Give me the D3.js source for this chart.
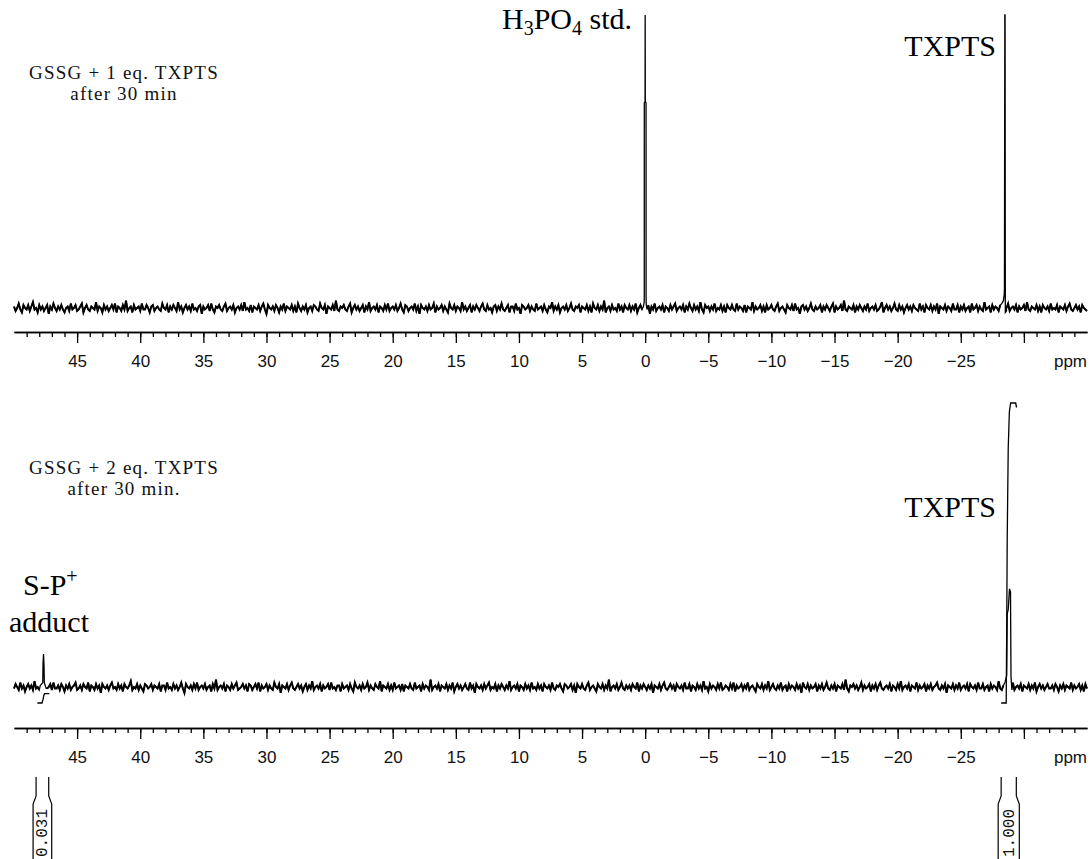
<!DOCTYPE html>
<html>
<head>
<meta charset="utf-8">
<script src="https://cdn.jsdelivr.net/npm/d3@7"></script>
<style>
  html, body { margin: 0; padding: 0; background: #fff; }
  svg { display: block; }
</style>
</head>
<body>
<svg id="chart" width="1092" height="859"></svg>
<script>
// ---- 31P spectra: baseline sampled every 0.125 ppm from 50 ppm upfield ----
const gridStart = 50;
const gridStep = 0.125;

const noiseTop = [
  1,-2,0,3,-1,-3,2,0,-1,2,-2,1,4,-1,0,-3,2,-1,1,-2,0,2,-4,1,-1,3,0,-2,1,-1,
  2,-1,-3,0,1,-2,3,-1,0,2,-2,-1,1,3,-3,0,2,-1,-2,1,0,-1,4,-2,1,0,-3,2,-1,1,
  -2,0,2,-1,3,-3,1,0,-2,2,-1,5,-2,0,1,-3,2,-1,0,1,-2,3,-1,-1,2,0,-3,1,2,-2,
  0,1,-1,-2,3,0,-1,2,-3,1,-1,2,0,-2,4,-1,1,-3,0,2,-1,1,-2,3,-1,0,-2,1,2,-4,
  1,-1,0,2,-2,3,-1,-3,1,0,2,-1,-2,1,3,-2,0,1,-1,2,-3,0,1,-1,2,-2,4,-1,0,-2,
  2,-3,1,0,-1,2,-2,1,3,-1,-4,2,0,-1,1,-2,2,0,-3,1,-1,3,-2,1,0,-1,2,-2,1,-3,
  3,0,-2,1,-1,2,-3,0,1,-2,2,1,-1,-2,3,0,-1,2,-4,1,0,-1,2,-2,5,-1,-2,1,0,2,
  -1,-2,1,3,-3,0,2,-1,1,-2,0,2,-3,1,-1,4,-2,0,1,-1,2,-3,1,0,-2,2,-1,3,-2,0,
  1,-1,2,-2,0,3,-1,-3,2,1,-2,0,1,-1,3,-2,1,-4,2,0,-1,1,-2,2,-1,0,3,-3,1,-1,
  0,2,-2,1,-1,-3,3,0,-1,2,-2,1,0,-2,4,-1,1,-2,0,2,-3,1,-1,2,0,-2,1,3,-1,-2,
  2,-1,0,-3,1,2,-2,1,-1,3,-1,-2,0,2,-3,1,1,-2,3,-1,0,-4,2,1,-1,0,2,-2,1,-1,
  -2,3,-1,0,1,-2,2,-1,-3,1,0,4,-2,1,-1,2,-3,0,1,-1,2,-2,0,3,-1,-2,1,0,2,-3,
  1,0,-1,2,-2,1,-3,3,0,-1,2,-2,1,-1,5,-3,0,1,-2,2,-1,0,-2,3,-1,1,-3,2,0,-1,
  2,-2,1,-1,3,-3,0,2,-1,1,-2,0,2,-4,1,-1,3,-2,0,1,-1,2,-3,1,0,-2,2,-1,1,3,
  -2,0,1,-1,2,-3,1,-1,3,0,-2,2,-1,1,-2,4,-1,-3,2,0,1,-2,1,-1,3,-2,0,-1,2,-2,
  1,-3,2,0,-1,2,-1,-2,3,-1,1,0,-2,2,-3,1,0,-1,4,-2,1,-1,0,2,-2,1,-3,2,-1,0,
  2,-1,-2,1,3,-2,0,1,-1,-3,2,0,-1,2,-2,3,-1,0,-4,1,2,-1,1,-2,0,3,-1,-2,1,-1,
  0,2,-3,1,-1,2,0,-2,1,3,-3,1,-1,0,2,-2,5,-1,-2,1,0,-1,2,-3,1,-1,2,0,-2,1,
  -1,3,-2,0,1,-1,2,-2,-1,1,4,-3,0,2,-1,1,-2,0,3,-1,-2,2,-1,1,-3,0,2,-1,1,-2,
  2,0,-1,-2,3,-1,1,-3,2,0,-1,2,-2,1,-1,3,-4,1,0,-1,2,-2,1,0,-2,3,-1,-1,2,-3,
  1,-1,2,-2,0,1,-3,3,-1,0,2,-2,1,-1,-2,4,-1,0,1,-3,2,-1,1,0,-2,2,-1,3,-2,0,
  3,-2,0,1,-1,2,-3,1,-1,0,2,-2,4,-1,-2,1,0,-1,2,-2,1,-3,2,0,-1,1,-2,3,-1,0,
  -1,2,-3,1,0,-1,2,-2,1,3,-1,-2,0,2,-1,1,-3,2,0,-1,-2
];

const noiseBottom = [
  -1,2,0,-2,3,-1,1,-3,0,2,-1,1,-2,4,-1,0,-2,1,2,-3,1,-1,0,2,-2,3,-1,-1,1,-2,
  2,0,-3,1,-1,2,-2,0,1,3,-2,-1,1,-2,2,0,-1,3,-3,1,0,-2,2,-1,1,-4,2,0,-1,1,
  -2,1,3,-1,0,-2,2,-1,1,-3,2,0,-1,1,4,-2,0,-1,2,-2,1,-1,-3,2,1,-1,0,2,-2,1,
  0,-1,2,-3,1,1,-2,3,-1,0,-2,2,-1,1,-2,0,3,-1,-4,2,0,-1,1,-2,2,-1,3,-2,0,1,
  -1,2,-2,0,1,-3,2,-1,5,-2,0,1,-1,2,-3,1,0,-2,2,-1,1,3,-2,-1,0,2,-1,1,-3,2,
  1,-2,0,2,-1,3,-3,1,-1,0,2,-2,1,-1,-2,3,0,-1,2,-4,1,0,-1,2,-2,1,3,-1,-2,0,
  2,-1,1,-3,0,2,-2,1,-1,4,-2,0,1,-1,2,-3,1,-1,0,2,-2,3,-1,0,-2,1,1,-3,2,-1,
  0,1,-2,2,-1,-3,3,0,-1,1,-2,2,-1,0,3,-2,1,-1,-2,2,0,-1,4,-3,1,0,-1,2,-2,1,
  -2,3,-1,0,1,-2,2,-3,1,0,-1,2,-1,-2,3,-1,0,1,-3,2,-1,1,0,-2,5,-2,0,1,-1,2,
  -3,1,0,-1,2,-2,1,-1,3,-3,0,2,-1,1,-2,0,2,-1,-2,3,-1,1,-4,2,0,-1,1,-2,2,-1,
  1,3,-2,0,-1,2,-3,1,-1,2,0,-2,1,-1,4,-2,0,1,-1,2,-3,1,0,-2,2,-1,1,-2,3,-1,
  0,-2,2,-1,1,-3,2,0,-1,1,-2,3,-1,-2,1,0,2,-1,-3,2,1,-1,0,2,-2,1,-4,2,0,-1,
  2,-1,-2,1,3,-2,0,1,-1,-3,2,0,-1,2,-2,1,-1,5,-3,0,1,-1,2,-2,0,3,-1,-2,1,-1,
  1,-2,2,0,-1,3,-3,1,-1,2,0,-2,1,-1,2,-4,1,0,-1,2,-2,1,3,-1,-2,0,2,-1,1,-3,
  2,0,-1,1,-2,3,-1,-1,2,-3,1,0,-2,2,-1,1,-2,4,-1,0,-3,2,-1,1,0,-2,2,-1,3,-2,
  -1,1,0,-2,2,-1,3,-3,1,-1,0,2,-2,1,-1,3,-2,0,1,-1,-3,2,0,-1,2,-2,1,-1,4,-2,
  0,2,-1,-2,1,-1,3,-2,0,1,-3,2,-1,1,0,-2,2,-1,1,-4,3,0,-1,2,-2,1,-1,0,2,-3,
  1,-1,2,-2,0,3,-1,-2,1,-1,2,-3,1,0,-1,2,-2,5,-1,-3,1,0,2,-1,1,-2,0,3,-2,1,
  -1,0,2,-3,1,-1,2,-2,1,3,-1,-2,0,1,-1,2,-3,1,0,-2,2,-1,4,-2,0,1,-1,2,-3,1,
  0,-1,3,-2,1,-1,0,2,-3,1,-1,2,-2,0,1,3,-1,-2,1,-1,2,-4,1,0,-1,2,-2,1,-1,3,
  -2,0,1,-1,2,-3,2,0,-1,1,-2,3,-1,-1,2,-2,0,1,-3,2,-1,1,0,-2,4,-1,-2,1,0,2,
  -1,-2,1,3,-2,0,1,-1,2,-3,1,0,-1,2,-2,1,-1,3,-3,0,2,-1,1,-2,0,2,-1,-1,1,-2,
  2,0,-3,1,-1,2,-2,1,0,-1,3,-2,1,-1,0,2,-2,1,-3,2,-1
];

// Peak profiles: [ppm, intensity]
const peakH3PO4 = [[0.14,1],[0.08,4],[0.072,8],[0.07,140],[0.01,141],[0,200],[-0.01,141],[-0.07,140],[-0.072,8],[-0.08,3],[-0.14,-1]];
const peakTxptsTop = [[-28.25,3],[-28.38,5],[-28.44,9],[-28.46,13],[-28.49,200],[-28.51,200],[-28.53,-3],[-28.62,-2]];
const peakTxptsBottom = [[-28.5,3],[-28.64,8],[-28.68,50],[-28.76,53],[-28.86,67],[-28.94,65],[-28.98,7],[-29.05,-2]];
const peakAdduct = [[47.92,1],[47.72,3],[47.70,16],[47.66,22.5],[47.62,14],[47.60,3],[47.45,-1]];

// Integral traces: [ppm, normalised integral]
const integralTxpts = [[-28.2,0],[-28.6,0],[-28.64,0.25],[-28.68,0.55],[-28.76,0.85],[-28.85,0.97],[-28.95,1.0],[-29.35,1.0],[-29.42,0.985]];
const integralAdduct = [[48.15,0],[47.78,0],[47.7,0.012],[47.64,0.025],[47.58,0.031],[47.2,0.031]];

// Integration regions and their values
const regionFrom = [48.25, -28.2];
const regionTo = [47.25, -29.4];
const regionValues = [0.031, 1.000];

// Axis labels
const tickLabels = [45, 40, 35, 30, 25, 20, 15, 10, 5, 0, -5, -10, -15, -20, -25];
const majorTicks = [45, 40, 35, 30, 25, 20, 15, 10, 5, 0, -5, -10, -15, -20, -25, -30];

const svg = d3.select("#chart");
const x = d3.scaleLinear().domain([50, -35]).range([14, 1087]);

const yTop = d3.scaleLinear().domain([0, 200]).range([308, 15]);
const yBot = d3.scaleLinear().domain([0, 200]).range([687, 394]);
const yInt = d3.scaleLinear().domain([0, 1]).range([703, 403]);

const line = y => d3.line().x(d => x(d[0])).y(d => y(d[1]));

function drawSpectrum(noise, peaks, y) {
  const spans = peaks.map(p => [d3.min(p, d => d[0]), d3.max(p, d => d[0])]);
  const inPeak = ppm => spans.some(s => ppm >= s[0] && ppm <= s[1]);
  const base = noise.map((v, i) => [gridStart - i * gridStep, v]);
  const pts = base.filter(d => !inPeak(d[0]));
  peaks.forEach(p => p.forEach(d => pts.push(d)));
  pts.sort((a, b) => b[0] - a[0]);

  // full trace
  svg.append("path")
    .datum(pts)
    .attr("fill", "none")
    .attr("stroke", "#000")
    .attr("stroke-width", 1.3)
    .attr("d", line(y));

  // baseline runs between the peaks, drawn heavier
  const runs = [];
  let cur = [];
  base.forEach(d => {
    if (inPeak(d[0])) { if (cur.length) runs.push(cur); cur = []; }
    else cur.push(d);
  });
  if (cur.length) runs.push(cur);
  svg.append("g").selectAll("path")
    .data(runs)
    .join("path")
    .attr("fill", "none")
    .attr("stroke", "#000")
    .attr("stroke-width", 2)
    .attr("d", line(y));
}

drawSpectrum(noiseTop, [peakH3PO4, peakTxptsTop], yTop);
drawSpectrum(noiseBottom, [peakAdduct, peakTxptsBottom], yBot);

// integral curves
[integralAdduct, integralTxpts].forEach(tr => {
  svg.append("path")
    .datum(tr)
    .attr("fill", "none")
    .attr("stroke", "#000")
    .attr("stroke-width", 1.3)
    .attr("d", line(yInt));
});

// ppm axes
function drawAxis(yPos) {
  const g = svg.append("g").attr("transform", `translate(0,${yPos})`);
  const minor = g.append("g").call(
    d3.axisBottom(x).tickValues(d3.range(49, -35, -1)).tickSize(5).tickSizeOuter(0).tickFormat(""));
  const major = g.append("g").call(
    d3.axisBottom(x).tickValues(majorTicks).tickSize(11).tickSizeOuter(0).tickPadding(12)
      .tickFormat(d => tickLabels.includes(d) ? (d < 0 ? "\u2212" + Math.abs(d) : String(d)) : ""));
  [minor, major].forEach(a => {
    a.select(".domain").attr("stroke", "#000").attr("stroke-width", 1.6);
    a.selectAll(".tick line").attr("stroke", "#000").attr("stroke-width", 1.3);
  });
  major.selectAll(".tick text")
    .attr("fill", "#111")
    .style("font-family", "'Liberation Sans', Arial, sans-serif")
    .style("font-size", "17px");
  g.append("text")
    .attr("x", 1087).attr("y", 23).attr("dy", "0.71em")
    .attr("text-anchor", "end")
    .attr("fill", "#111")
    .style("font-family", "'Liberation Sans', Arial, sans-serif")
    .style("font-size", "17px")
    .text("ppm");
}
drawAxis(332);
drawAxis(728);

// integration brackets with values
regionValues.forEach((v, i) => {
  const x1 = x(regionFrom[i]), x2 = x(regionTo[i]);
  svg.append("path")
    .attr("fill", "none").attr("stroke", "#000").attr("stroke-width", 1.2)
    .attr("d", `M${x1},777V796L${x1 - 3},804V870M${x2},777V796L${x2 + 3},804V870`);
  const cx = (x1 + x2) / 2;
  svg.append("text")
    .attr("transform", `translate(${cx + 5},857) rotate(-90)`)
    .attr("fill", "#111")
    .style("font-family", "'Liberation Mono', monospace")
    .style("font-size", "16px")
    .text(v.toFixed(3));
});

// sample captions
function caption(lines, cx, y0) {
  lines.forEach((t, i) => {
    svg.append("text")
      .attr("x", cx).attr("y", y0 + i * 21)
      .attr("text-anchor", "middle")
      .attr("fill", "#111")
      .style("font-family", "'Liberation Serif', serif")
      .style("font-size", "19px")
      .style("letter-spacing", "1.2px")
      .text(t);
  });
}
caption(["GSSG + 1 eq. TXPTS", "after 30 min"], 124, 79);
caption(["GSSG + 2 eq. TXPTS", "after 30 min."], 124, 474);

// peak labels
const serif = "'Liberation Serif', 'Times New Roman', serif";
const h3po4 = svg.append("text")
  .attr("x", 632).attr("y", 29).attr("text-anchor", "end")
  .style("font-family", serif).style("font-size", "30px").attr("fill", "#000");
h3po4.append("tspan").text("H");
h3po4.append("tspan").attr("dy", 6).style("font-size", "20px").text("3");
h3po4.append("tspan").attr("dy", -6).text("PO");
h3po4.append("tspan").attr("dy", 6).style("font-size", "20px").text("4");
h3po4.append("tspan").attr("dy", -6).text(" std.");

[[996, 56], [996, 517]].forEach(([tx, ty]) => {
  svg.append("text")
    .attr("x", tx).attr("y", ty).attr("text-anchor", "end")
    .style("font-family", serif).style("font-size", "30px").attr("fill", "#000")
    .text("TXPTS");
});

const sp = svg.append("text")
  .attr("x", 23).attr("y", 595)
  .style("font-family", serif).style("font-size", "30px").attr("fill", "#000");
sp.append("tspan").text("S-P");
sp.append("tspan").attr("dy", -12).style("font-size", "20px").text("+");

svg.append("text")
  .attr("x", 9).attr("y", 632)
  .style("font-family", serif).style("font-size", "30px").attr("fill", "#000")
  .text("adduct");
</script>
</body>
</html>
